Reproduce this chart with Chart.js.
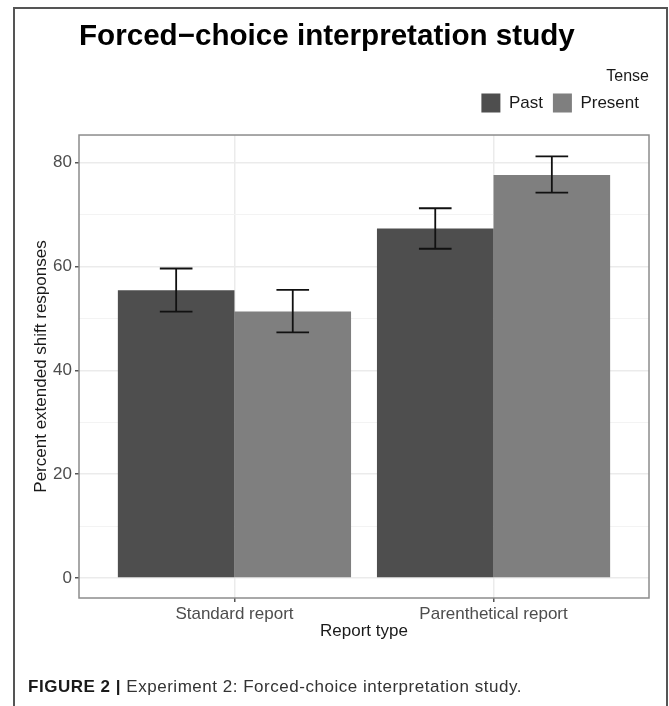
<!DOCTYPE html>
<html>
<head>
<meta charset="utf-8">
<script src="https://cdn.jsdelivr.net/npm/chart.js@4.4.1/dist/chart.umd.min.js"></script>
<style>
  body { margin: 0; background: #fff; }
  #wrap { position: relative; width: 669px; height: 706px; overflow: hidden; }
  #chart { position: absolute; left: 0; top: 0; }
  #frame { position: absolute; left: 13px; top: 7px; width: 655px; height: 720px; box-sizing: border-box; border: 2px solid #555; pointer-events: none; }
  #caption { position: absolute; left: 28px; top: 677px; font: 17px 'Liberation Sans', Arial, sans-serif; line-height: 20px; color: #333; letter-spacing: 0.52px; white-space: nowrap; }
  #caption b { color: #1a1a1a; }
</style>
</head>
<body>
<div id="wrap">
  <canvas id="chart" width="669" height="706"></canvas>
  <div id="frame"></div>
  <div id="caption"><b>FIGURE 2 |</b> Experiment 2: Forced-choice interpretation study.</div>
</div>
<script>
// values
const reportTypes = ["Standard report", "Parenthetical report"];
const tenses = ["Past", "Present"];
const pastMeans = [55.4, 67.3];
const presentMeans = [51.3, 77.6];
const pastLower = [51.3, 63.4];
const pastUpper = [59.6, 71.2];
const presentLower = [47.3, 74.2];
const presentUpper = [55.5, 81.2];
const yTicks = [0, 10, 20, 30, 40, 50, 60, 70, 80];

Chart.defaults.font.family = "'Liberation Sans', Arial, Helvetica, sans-serif";

// error bars drawn on top of each bar
const errorBars = {
    id: 'errorBars',
    afterDatasetsDraw(chart) {
        const ctx = chart.ctx;
        const y = chart.scales.y;
        const lows = [pastLower, presentLower];
        const highs = [pastUpper, presentUpper];
        ctx.save();
        ctx.strokeStyle = '#111';
        ctx.lineWidth = 1.8;
        chart.data.datasets.forEach((ds, i) => {
            chart.getDatasetMeta(i).data.forEach((bar, j) => {
                const top = y.getPixelForValue(highs[i][j]);
                const bot = y.getPixelForValue(lows[i][j]);
                const half = bar.width * 0.14;
                ctx.beginPath();
                ctx.moveTo(bar.x, top);
                ctx.lineTo(bar.x, bot);
                ctx.moveTo(bar.x - half, top);
                ctx.lineTo(bar.x + half, top);
                ctx.moveTo(bar.x - half, bot);
                ctx.lineTo(bar.x + half, bot);
                ctx.stroke();
            });
        });
        ctx.restore();
    }
};

// grey frame around the plotting panel
const panelBorder = {
    id: 'panelBorder',
    afterDraw(chart) {
        const a = chart.chartArea;
        const ctx = chart.ctx;
        ctx.save();
        ctx.strokeStyle = '#8c8c8c';
        ctx.lineWidth = 1.5;
        ctx.strokeRect(a.left, a.top, a.right - a.left, a.bottom - a.top);
        ctx.restore();
    }
};

const isMajor = (v) => v % 20 === 0;

new Chart(document.getElementById('chart'), {
    type: 'bar',
    data: {
        datasets: [
            {
                label: tenses[0],
                data: reportTypes.map((_, i) => ({ x: i + 1, y: pastMeans[i] })),
                backgroundColor: '#4e4e4e',
                borderWidth: 0
            },
            {
                label: tenses[1],
                data: reportTypes.map((_, i) => ({ x: i + 1, y: presentMeans[i] })),
                backgroundColor: '#7f7f7f',
                borderWidth: 0
            }
        ]
    },
    options: {
        responsive: false,
        animation: false,
        devicePixelRatio: 1,
        categoryPercentage: 0.9,
        barPercentage: 1,
        layout: { padding: { top: 0, left: 0, right: 20, bottom: 48 } },
        plugins: {
            tooltip: { enabled: false },
            title: {
                display: true,
                text: 'Forced\u2212choice interpretation study',
                align: 'start',
                fullSize: false,
                color: '#000',
                font: { size: 29.6, weight: 'bold', lineHeight: 1.2 },
                padding: { top: 19.3, bottom: 13.7 }
            },
            // empty spacer between legend and panel
            subtitle: {
                display: true,
                text: '',
                weight: 500,
                padding: 0,
                font: { size: 12.5, lineHeight: 1 }
            },
            legend: {
                position: 'top',
                align: 'end',
                labels: {
                    boxWidth: 19,
                    boxHeight: 19,
                    padding: 10,
                    color: '#1a1a1a',
                    font: { size: 17 }
                },
                title: {
                    display: true,
                    text: 'Tense',
                    position: 'end',
                    color: '#1a1a1a',
                    font: { size: 16, lineHeight: 0.9375 },
                    padding: 0
                }
            }
        },
        scales: {
            x: {
                type: 'linear',
                min: 0.4,
                max: 2.6,
                offset: false,
                afterBuildTicks: (axis) => { axis.ticks = reportTypes.map((_, i) => ({ value: i + 1 })); },
                afterFit: (axis) => { axis.height = 60; },
                grid: { offset: false, color: '#ebebeb', lineWidth: 1.5, tickLength: 4, tickColor: '#555', tickWidth: 1.5 },
                border: { display: false },
                ticks: {
                    callback: (v, i) => reportTypes[i],
                    color: '#4d4d4d',
                    font: { size: 17 },
                    padding: 2,
                    maxRotation: 0,
                    autoSkip: false
                },
                title: {
                    display: true,
                    text: 'Report type',
                    color: '#1a1a1a',
                    font: { size: 17 },
                    padding: { top: 0, bottom: 16 }
                }
            },
            y: {
                min: -3.85,
                max: 85.3,
                afterBuildTicks: (axis) => { axis.ticks = yTicks.map(v => ({ value: v })); },
                afterFit: (axis) => { axis.width = 79; },
                grid: {
                    color: (c) => isMajor(c.tick.value) ? '#ebebeb' : '#f3f3f3',
                    lineWidth: (c) => isMajor(c.tick.value) ? 1.5 : 1,
                    tickLength: 4,
                    tickColor: (c) => isMajor(c.tick.value) ? '#555' : 'rgba(0,0,0,0)',
                    tickWidth: 1.5
                },
                border: { display: false },
                ticks: {
                    callback: (v) => isMajor(v) ? v : '',
                    color: '#4d4d4d',
                    font: { size: 17 },
                    padding: 3
                },
                title: {
                    display: true,
                    text: 'Percent extended shift responses',
                    color: '#1a1a1a',
                    font: { size: 17 },
                    padding: { top: 31, bottom: 0 }
                }
            }
        }
    },
    plugins: [errorBars, panelBorder]
});
</script>
</body>
</html>
